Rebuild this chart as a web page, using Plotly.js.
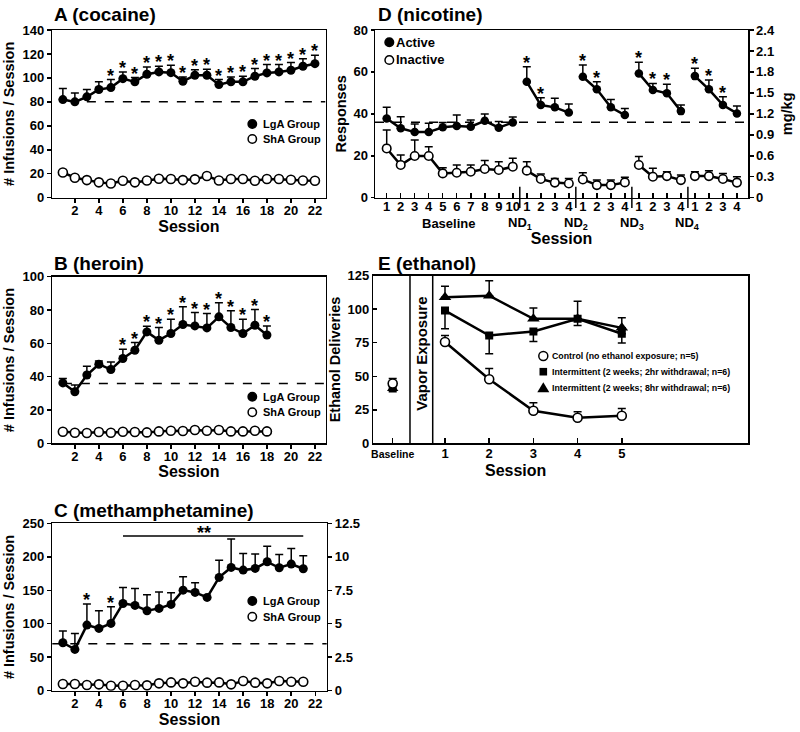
<!DOCTYPE html>
<html>
<head>
<meta charset="utf-8">
<script src="https://cdn.plot.ly/plotly-3.0.1.min.js"></script>
<style>
  html, body { margin: 0; padding: 0; background: #fff; }
  #chart { width: 800px; height: 732px; }
</style>
</head>
<body>
<div id="chart"></div>
<script>
// ---------------- DATA ----------------
// Panel A (cocaine)
const sessionsA = [1,2,3,4,5,6,7,8,9,10,11,12,13,14,15,16,17,18,19,20,21,22];
const lgaA    = [81.9,80.0,84.2,90.3,91.9,99.4,96.7,103.1,105.0,104.4,97.2,102.2,102.2,94.4,96.7,96.7,101.4,104.2,105.0,106.4,109.7,111.9];
const lgaAErr = [9.2,7.5,6.1,6.4,6.7,5.6,3.6,6.1,4.7,6.2,3.6,4.7,5.0,4.2,4.1,4.7,6.4,6.9,6.1,6.4,6.4,7.0];
const shaA    = [21.1,16.7,14.7,12.8,11.9,14.2,12.8,14.4,15.8,15.6,14.7,15.3,18.1,14.4,15.6,15.6,14.2,15.6,15.6,15.0,14.4,14.2];
const starsA  = [5,6,7,8,9,10,11,12,13,14,15,16,17,18,19,20,21,22];
const baselineA = 80;

// Panel B (heroin)
const sessionsB = [1,2,3,4,5,6,7,8,9,10,11,12,13,14,15,16,17,18];
const lgaB    = [36.3,31.0,41.0,47.5,44.3,50.9,55.9,66.9,61.9,65.9,71.3,70.5,69.3,75.9,69.5,65.9,70.9,65.0];
const lgaBErr = [2.7,4.0,5.3,2.0,4.6,5.6,4.6,3.4,7.6,8.6,10.6,8.0,8.6,8.4,10.0,8.6,9.4,5.5];
const shaB    = [7.0,6.4,6.2,6.8,6.4,7.0,6.8,6.6,7.2,7.6,7.4,8.0,7.6,8.0,7.2,7.2,7.6,7.2];
const starsB  = [6,7,8,9,10,11,12,13,14,15,16,17,18];
const baselineB = 36;

// Panel C (methamphetamine)
const sessionsC = [1,2,3,4,5,6,7,8,9,10,11,12,13,14,15,16,17,18,19,20,21];
const lgaC    = [71.6,61.7,98.0,93.0,100.5,130.3,127.4,119.4,122.9,128.9,150.2,146.8,139.3,169.2,184.1,180.1,182.6,192.5,183.6,189.1,182.1];
const lgaCErr = [17.4,23.9,31.4,26.4,24.9,23.9,25.3,23.9,24.4,17.4,19.9,14.4,0,25.8,42.3,24.9,21.4,23.4,19.9,23.3,19.4];
const shaC    = [10.0,10.0,8.5,9.5,7.5,7.5,8.5,8.0,11.0,12.4,11.0,13.4,12.0,12.4,9.5,14.4,12.0,11.0,14.4,13.4,13.4];
const starsC  = [3,5];
const baselineC = 70;
const cBracketFrom = 6, cBracketTo = 21, cBracketLevel = 231;
const cRightTickVals = [0,2.5,5,7.5,10,12.5];

// Panel D (nicotine)
const dPos      = [1,2,3,4,5,6,7,8,9,10,11,12,13,14,15,16,17,18,19,20,21,22,23,24,25,26];
const dTickText = ['1','2','3','4','5','6','7','8','9','10','1','2','3','4','1','2','3','4','1','2','3','4','1','2','3','4'];
const dGroup    = [0,0,0,0,0,0,0,0,0,0,1,1,1,1,2,2,2,2,3,3,3,3,4,4,4,4];
const dActive      = [37.8,33.1,31.3,31.3,33.6,34.2,33.9,36.7,33.4,35.9, 55.3,44.2,43.1,40.6, 57.7,51.7,43.1,39.4, 59.3,51.4,49.8,41.3, 58.0,51.7,44.2,40.2];
const dActiveErr   = [5.3,5.5,3.8,4.2,2.3,5.2,3.2,3.2,2.9,2.6, 7.2,3.5,4.3,4.1, 5.6,3.6,3.8,3.2, 5.3,3.1,4.3,2.9, 3.7,4.4,4.0,3.5];
const dInactive    = [23.5,15.6,19.9,19.9,11.6,11.9,12.4,13.7,13.2,14.8, 12.9,8.9,7.2,6.8, 8.7,6.0,6.0,7.3, 15.6,10.0,10.3,8.4, 10.3,10.3,8.9,7.2];
const dInactiveErr = [8.8,4.8,7.6,4.4,2.7,3.7,3.2,4.0,4.0,4.0, 4.3,2.4,2.0,2.4, 3.2,2.4,2.4,2.4, 4.0,4.0,2.1,2.4, 2.1,2.6,2.7,2.8];
const starsD    = [11,12,15,16,19,20,21,23,24,25];
const baselineD = 36;
const dSeparators = [10.5,14.5,18.5,22.5];
const dGroupLabels = ['Baseline','ND<sub>1</sub>','ND<sub>2</sub>','ND<sub>3</sub>','ND<sub>4</sub>'];
const dGroupLabelPos = [5.4,10.5,14.5,18.5,22.5];

// Panel E (ethanol)
const eSessions   = [1,2,3,4,5];
const eBaselineX  = -0.183;
const eControl    = [75.5,47.8,24.3,19.1,20.5];
const eControlErr = [4.9,7.9,5.9,4.4,5.5];
const eInt2       = [99.0,80.4,83.4,92.8,81.7];
const eInt2Err    = [13.6,13.6,7.4,4.9,6.9];
const eInt8       = [108.9,110.1,92.8,92.8,86.1];
const eInt8Err    = [8.2,11.2,8.2,13.1,7.5];
const eBaseControl = 44.6, eBaseControlErr = 3.7;
const eBaseInt2 = 40.8, eBaseInt8 = 40.8;
const eSeparators = [0.208, 0.722];
const eTickVals = [-0.183,1,2,3,4,5];
const eTickText = ['<span style="font-size:10.5px">Baseline</span>','1','2','3','4','5'];

// ---------------- HELPERS ----------------
const W = 800, H = 732;
const FONT = '"Liberation Sans", Arial, Helvetica, sans-serif';
const px = v => v / W;
const py = v => 1 - v / H;
const zeros = a => a.map(() => 0);

function series(x, y, errUp, errDown, xa, ya, opts) {
  const t = {
    type: 'scatter', mode: opts.mode || 'lines+markers', x: x, y: y,
    xaxis: xa, yaxis: ya, showlegend: false, hoverinfo: 'skip',
    line: {color: 'black', width: 2.5},
    marker: {symbol: opts.symbol || 'circle', size: opts.size || 9,
             color: opts.open ? 'white' : 'black',
             line: {color: 'black', width: opts.open ? 1.6 : 0}}
  };
  if (errUp || errDown) {
    t.error_y = {type: 'data', symmetric: false,
                 array: errUp || zeros(y), arrayminus: errDown || zeros(y),
                 color: 'black', thickness: 1.5, width: 4};
  }
  return t;
}

const tickFont = {family: FONT, size: 13, color: 'black', weight: 'bold'};
const titleFont = {family: FONT, size: 14.5, color: 'black', weight: 'bold'};
const sessFont = {family: FONT, size: 16, color: 'black', weight: 'bold'};
function ax(extra) {
  return Object.assign({
    showline: true, linecolor: 'black', linewidth: 1.5, mirror: true,
    ticks: 'outside', ticklen: 4, tickwidth: 1.5, tickcolor: 'black',
    showgrid: false, zeroline: false, tickfont: tickFont, fixedrange: true
  }, extra);
}

// ---------------- TRACES ----------------
const traces = [];
// A
traces.push(series(sessionsA, shaA, null, null, 'x', 'y', {open: true}));
traces.push(series(sessionsA, lgaA, lgaAErr, null, 'x', 'y', {}));
// B
traces.push(series(sessionsB, shaB, null, null, 'x2', 'y2', {open: true}));
traces.push(series(sessionsB, lgaB, lgaBErr, null, 'x2', 'y2', {}));
// C
traces.push(series(sessionsC, shaC, null, null, 'x3', 'y3', {open: true}));
traces.push(series(sessionsC, lgaC, lgaCErr, null, 'x3', 'y3', {}));
// empty holders so the secondary (right-hand) axes are drawn
traces.push({type: 'scatter', mode: 'markers', x: [], y: [], xaxis: 'x3', yaxis: 'y6', showlegend: false, hoverinfo: 'skip'});
traces.push({type: 'scatter', mode: 'markers', x: [], y: [], xaxis: 'x4', yaxis: 'y7', showlegend: false, hoverinfo: 'skip'});
// D (one trace per segment so lines break between phases)
for (let g = 0; g < 5; g++) {
  const idx = dGroup.map((v, i) => v === g ? i : -1).filter(i => i >= 0);
  const pick = arr => idx.map(i => arr[i]);
  traces.push(series(pick(dPos), pick(dInactive), pick(dInactiveErr), null, 'x4', 'y4', {open: true, size: 8.5}));
  traces.push(series(pick(dPos), pick(dActive), pick(dActiveErr), null, 'x4', 'y4', {size: 8.5}));
}
// E
traces.push(series([eBaselineX], [eBaseInt8], null, null, 'x5', 'y5', {mode: 'markers', symbol: 'triangle-up', size: 10}));
traces.push(series([eBaselineX], [eBaseInt2], null, null, 'x5', 'y5', {mode: 'markers', symbol: 'square', size: 8}));
traces.push(series([eBaselineX], [eBaseControl], [eBaseControlErr], null, 'x5', 'y5', {mode: 'markers', open: true, size: 9}));
traces.push(series(eSessions, eControl, eControlErr, null, 'x5', 'y5', {open: true, size: 9}));
traces.push(series(eSessions, eInt2, null, eInt2Err, 'x5', 'y5', {symbol: 'square', size: 8}));
traces.push(series(eSessions, eInt8, eInt8Err, null, 'x5', 'y5', {symbol: 'triangle-up', size: 11}));

// ---------------- ANNOTATIONS ----------------
const ann = [];
function starAnn(xs, sess, vals, errs, xa, ya) {
  xs.forEach(s => {
    const i = sess.indexOf(s);
    ann.push({x: s, y: vals[i] + errs[i], xref: xa, yref: ya, text: '*', showarrow: false,
              font: {family: FONT, size: 18, color: 'black', weight: 'bold'},
              yanchor: 'middle', yshift: 4});
  });
}
starAnn(starsA, sessionsA, lgaA, lgaAErr, 'x', 'y');
starAnn(starsB, sessionsB, lgaB, lgaBErr, 'x2', 'y2');
starAnn(starsC, sessionsC, lgaC, lgaCErr, 'x3', 'y3');
starAnn(starsD, dPos, dActive, dActiveErr, 'x4', 'y4');
ann.push({x: 12.75, y: 240.8, xref: 'x3', yref: 'y3', text: '**', showarrow: false,
          font: {family: FONT, size: 18, color: 'black', weight: 'bold'}, yanchor: 'middle', yshift: -4});

// panel titles
const panelFont = {family: FONT, size: 19, color: 'black', weight: 'bold'};
[['A (cocaine)', 52, 15], ['B (heroin)', 52, 263], ['C (methamphetamine)', 52, 510],
 ['D (nicotine)', 376, 15], ['E (ethanol)', 376, 263]].forEach(t => {
  ann.push({x: px(t[1]), y: py(t[2]), xref: 'paper', yref: 'paper', text: t[0], showarrow: false,
            xanchor: 'left', yanchor: 'middle', font: panelFont});
});

// D group labels
dGroupLabels.forEach((t, i) => {
  ann.push({x: dGroupLabelPos[i], y: py(223), xref: 'x4', yref: 'paper', text: t, showarrow: false,
            yanchor: 'middle', font: tickFont});
});
// E extras
ann.push({x: 0.45, y: py(354), xref: 'x5', yref: 'paper', text: 'Vapor Exposure', textangle: -90,
          showarrow: false, font: {family: FONT, size: 15, color: 'black', weight: 'bold'}});
ann.push({x: px(515), y: py(470), xref: 'paper', yref: 'paper', text: 'Session', showarrow: false,
          yanchor: 'middle', font: sessFont});

// legends (text)
const legFont = {family: FONT, size: 11, color: 'black', weight: 'bold'};
const legSmall = {family: FONT, size: 8.8, color: 'black', weight: 'bold'};
const legendItems = [
  ['LgA Group', 261, 124, legFont], ['ShA Group', 261, 139, legFont],
  ['LgA Group', 261, 396.7, legFont], ['ShA Group', 261, 412.3, legFont],
  ['LgA Group', 261, 601, legFont], ['ShA Group', 261, 616.7, legFont],
  ['Active', 394, 42.3, {family: FONT, size: 13, color: 'black', weight: 'bold'}],
  ['Inactive', 394, 60, {family: FONT, size: 13, color: 'black', weight: 'bold'}],
  ['Control (no ethanol exposure; n=5)', 550, 356, legSmall],
  ['Intermittent (2 weeks; 2hr withdrawal; n=6)', 550, 371.7, legSmall],
  ['Intermittent (2 weeks; 8hr withdrawal; n=6)', 550, 387.7, legSmall]
];
legendItems.forEach(l => {
  ann.push({x: px(l[1]), y: py(l[2]), xref: 'paper', yref: 'paper', text: l[0], showarrow: false,
            xanchor: 'left', yanchor: 'middle', font: l[3]});
});

// ---------------- SHAPES ----------------
const shapes = [];
function circ(cx, cy, r, filled) {
  shapes.push({type: 'circle', xref: 'paper', yref: 'paper',
               x0: px(cx - r), x1: px(cx + r), y0: py(cy + r), y1: py(cy - r),
               fillcolor: filled ? 'black' : 'white', line: {color: 'black', width: 1.5}});
}
circ(252.3, 124, 4.2, true);  circ(252.3, 139, 4.2, false);
circ(252.3, 396.7, 4.2, true); circ(252.3, 412.3, 4.2, false);
circ(252.3, 601, 4.2, true);  circ(252.3, 616.7, 4.2, false);
circ(389.3, 42.3, 4.3, true); circ(389.3, 60, 4.3, false);
circ(543.3, 356, 4.5, false);
shapes.push({type: 'rect', xref: 'paper', yref: 'paper', x0: px(539.5), x1: px(547.1), y0: py(375.5), y1: py(367.9),
             fillcolor: 'black', line: {color: 'black', width: 0}});
shapes.push({type: 'path', xref: 'paper', yref: 'paper',
             path: 'M ' + px(537.3) + ' ' + py(392.2) + ' L ' + px(549.3) + ' ' + py(392.2) + ' L ' + px(543.3) + ' ' + py(382.2) + ' Z',
             fillcolor: 'black', line: {color: 'black', width: 0}});

const dash = {color: 'black', width: 1.5, dash: 'dash'};
shapes.push({type: 'line', xref: 'x', yref: 'y', x0: 3, x1: 22.88, y0: baselineA, y1: baselineA, line: dash, layer: 'below'});
shapes.push({type: 'line', xref: 'x2', yref: 'y2', x0: 1, x1: 22.88, y0: baselineB, y1: baselineB, line: dash, layer: 'below'});
shapes.push({type: 'line', xref: 'x3 domain', yref: 'y3', x0: 0, x1: 1, y0: baselineC, y1: baselineC, line: dash, layer: 'below'});
shapes.push({type: 'line', xref: 'x4 domain', yref: 'y4', x0: 0, x1: 1, y0: baselineD, y1: baselineD, line: dash, layer: 'below'});
shapes.push({type: 'line', xref: 'x3', yref: 'y3', x0: cBracketFrom, x1: cBracketTo, y0: cBracketLevel, y1: cBracketLevel,
             line: {color: 'black', width: 1.5}});
dSeparators.forEach(s => shapes.push({type: 'line', xref: 'x4', yref: 'y4 domain', x0: s, x1: s, y0: -0.062, y1: 0.066,
                                      line: {color: 'black', width: 1.5}}));
eSeparators.forEach(s => shapes.push({type: 'line', xref: 'x5', yref: 'y5 domain', x0: s, x1: s, y0: 0, y1: 1,
                                      line: {color: 'black', width: 1.5}}));

// ---------------- LAYOUT ----------------
const xABC = [px(52.3), px(325.5)];
const layout = {
  width: W, height: H, margin: {l: 0, r: 0, t: 0, b: 0},
  paper_bgcolor: 'white', plot_bgcolor: 'white', showlegend: false,
  font: {family: FONT, color: 'black'},
  xaxis: ax({domain: xABC, anchor: 'y', range: [0.12, 22.88], tickmode: 'linear', tick0: 2, dtick: 2,
             ticklabelstandoff: -4, title: {text: 'Session', font: sessFont, standoff: 0}}),
  yaxis: ax({domain: [py(197.7), py(30)], anchor: 'x', range: [0, 140], dtick: 20,
             title: {text: '# Infusions / Session', font: titleFont, standoff: 4}}),
  xaxis2: ax({domain: xABC, anchor: 'y2', range: [0.12, 22.88], tickmode: 'linear', tick0: 2, dtick: 2,
              ticklabelstandoff: -4, title: {text: 'Session', font: sessFont, standoff: 0}}),
  yaxis2: ax({domain: [py(443.4), py(276.7)], anchor: 'x2', range: [0, 100], dtick: 20,
              title: {text: '# Infusions / Session', font: titleFont, standoff: 4}}),
  xaxis3: ax({domain: [px(52.3), px(326.7)], anchor: 'y3', range: [0.12, 22.95], tickmode: 'linear', tick0: 2, dtick: 2,
              ticklabelstandoff: -4, title: {text: 'Session', font: sessFont, standoff: 0}}),
  yaxis3: ax({domain: [py(690.7), py(523.3)], anchor: 'x3', range: [0, 250], dtick: 50,
              title: {text: '# Infusions / Session', font: titleFont, standoff: 4}}),
  yaxis6: ax({overlaying: 'y3', side: 'right', anchor: 'x3', range: [0, 12.5], tickvals: cRightTickVals, mirror: false}),
  xaxis4: ax({domain: [px(375), px(748)], anchor: 'y4', range: [0.165, 26.79], tickvals: dPos, ticktext: dTickText,
              ticks: 'inside', ticklen: 5, ticklabelstandoff: -4,
              title: {text: 'Session', font: sessFont, standoff: 20}}),
  yaxis4: ax({domain: [py(197.7), py(30)], anchor: 'x4', range: [0, 80], dtick: 20, ticklen: 3,
              title: {text: 'Responses', font: titleFont, standoff: 3}}),
  yaxis7: ax({overlaying: 'y4', side: 'right', anchor: 'x4', range: [0, 2.4], dtick: 0.3, tick0: 0, mirror: false,
              title: {text: 'mg/kg', font: titleFont, standoff: 8}}),
  xaxis5: ax({domain: [px(373.3), px(748)], anchor: 'y5', range: [-0.622, 7.855], tickvals: eTickVals, ticktext: eTickText,
              ticks: 'inside', ticklen: 5, ticklabelstandoff: -2}),
  yaxis5: ax({domain: [py(443.3), py(275.7)], anchor: 'x5', range: [0, 125], dtick: 25, ticks: 'inside', ticklen: 4,
              title: {text: 'Ethanol Deliveries', font: titleFont, standoff: 3}}),
  annotations: ann,
  shapes: shapes
};

Plotly.newPlot('chart', traces, layout, {staticPlot: true, displayModeBar: false});
</script>
</body>
</html>
